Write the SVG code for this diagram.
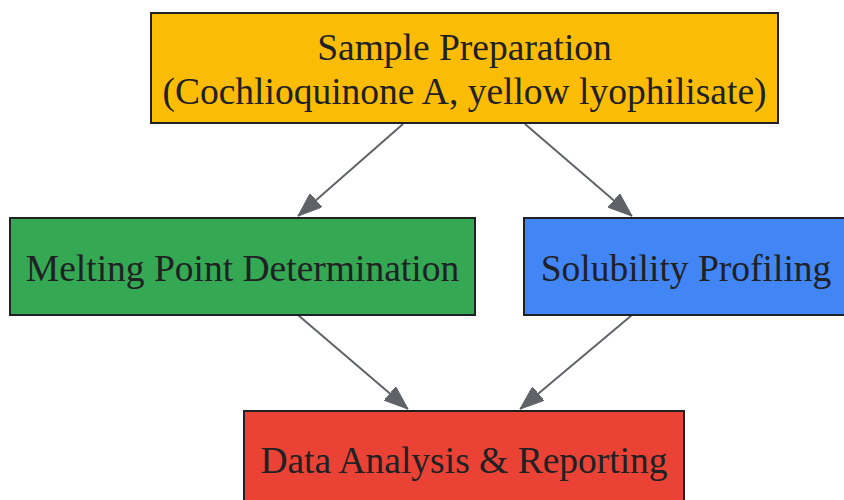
<svg xmlns="http://www.w3.org/2000/svg" width="844" height="500" viewBox="0 0 844 500">
<style>
.box{stroke:#202124;stroke-width:2}
.lbl{font-family:"Liberation Serif","Times New Roman",serif;font-size:37.5px;fill:#202124;text-anchor:middle}
.edge{stroke:#5f6368;stroke-width:2;fill:none;marker-end:url(#ah)}
</style>
<defs>
<marker id="ah" markerUnits="userSpaceOnUse" viewBox="0 0 24 18" refX="24" refY="9" markerWidth="24" markerHeight="18" orient="auto">
<path d="M0,0 L24,9 L0,18 Z" fill="#5f6368" stroke="#5f6368" stroke-width="1"/>
</marker>
</defs>
<rect width="844" height="500" fill="#ffffff"/>
<g id="connectors">
<line class="edge" x1="403" y1="124" x2="298" y2="216"/>
<line class="edge" x1="525" y1="124" x2="632" y2="216"/>
<line class="edge" x1="298" y1="315" x2="408" y2="409"/>
<line class="edge" x1="632" y1="315" x2="520" y2="409"/>
</g>
<g id="sample_prep">
<rect class="box" x="151" y="13" width="627" height="110" fill="#fbbc05"/>
<text class="lbl" x="464.5" y="60">Sample Preparation</text>
<text class="lbl" x="464.5" y="104">(Cochlioquinone A, yellow lyophilisate)</text>
</g>
<g id="melting_point">
<rect class="box" x="10" y="218" width="465" height="97" fill="#34a853"/>
<text class="lbl" x="242.5" y="281">Melting Point Determination</text>
</g>
<g id="solubility">
<rect class="box" x="524" y="218" width="324" height="97" fill="#4285f4"/>
<text class="lbl" x="686" y="281">Solubility Profiling</text>
</g>
<g id="data_analysis">
<rect class="box" x="244" y="411" width="440" height="100" fill="#ea4335"/>
<text class="lbl" x="464" y="473">Data Analysis &amp; Reporting</text>
</g>
</svg>
